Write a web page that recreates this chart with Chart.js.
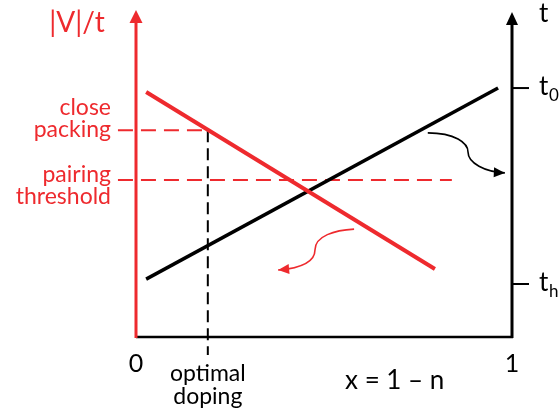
<!DOCTYPE html>
<html>
<head>
<meta charset="utf-8">
<script src="https://cdn.jsdelivr.net/npm/chart.js@4/dist/chart.umd.min.js"></script>
<style>
  html, body { margin: 0; padding: 0; background: #fff; }
  #wrap { width: 559px; height: 415px; }
</style>
</head>
<body>
<div id="wrap"><canvas id="phase" width="559" height="415"></canvas></div>
<script>
const RED = "#ee2a2e";
const BLACK = "#000000";
const FONT = "Lato, 'Open Sans', sans-serif";

// doping axis x = 1 - n, both vertical axes on a 0..1 scale
const xTicks = [0, 1];
const xTickLabels = ["0", "1"];
const tTicks = [0.766, 0.163];
const tTickLabels = [["t", "0"], ["t", "h"]];

// |V|/t falls with doping, t rises
const vOverT = [{ x: 0.027, y: 0.754 }, { x: 0.795, y: 0.209 }];
const hopping = [{ x: 0.027, y: 0.178 }, { x: 0.963, y: 0.766 }];

const closePacking = 0.636;
const pairingThreshold = 0.483;
const optimalDoping = 0.191;

const vLabels = [["close", "packing"], ["pairing", "threshold"]];
const vLabelOffsets = [[-23, -1], [-5, 17]];

function arrowHead(ctx, x, y, angle, len, half, color) {
  ctx.save();
  ctx.translate(x, y);
  ctx.rotate(angle);
  ctx.fillStyle = color;
  ctx.beginPath();
  ctx.moveTo(0, 0);
  ctx.lineTo(-len, -half);
  ctx.lineTo(-len, half);
  ctx.closePath();
  ctx.fill();
  ctx.restore();
}

const decorations = {
  id: "decorations",
  afterDatasetsDraw(chart) {
    const { ctx, chartArea: area } = chart;
    const xs = chart.scales.x;
    const ys = chart.scales.y;
    const px = (v) => xs.getPixelForValue(v);
    const py = (v) => ys.getPixelForValue(v);

    ctx.save();
    ctx.lineCap = "butt";

    // bottom axis
    ctx.strokeStyle = BLACK;
    ctx.lineWidth = 2.5;
    ctx.beginPath();
    ctx.moveTo(area.left, area.bottom);
    ctx.lineTo(area.right + 1, area.bottom);
    ctx.stroke();

    // right t axis
    ctx.lineWidth = 3;
    ctx.beginPath();
    ctx.moveTo(area.right, area.bottom + 1);
    ctx.lineTo(area.right, area.top + 10);
    ctx.stroke();
    arrowHead(ctx, area.right, area.top, -Math.PI / 2, 13, 6, BLACK);

    // left |V|/t axis
    ctx.strokeStyle = RED;
    ctx.lineWidth = 3;
    ctx.beginPath();
    ctx.moveTo(area.left, area.bottom + 1);
    ctx.lineTo(area.left, area.top + 8);
    ctx.stroke();
    arrowHead(ctx, area.left, area.top - 2, -Math.PI / 2, 13, 6.5, RED);

    // t ticks
    ctx.strokeStyle = BLACK;
    ctx.lineWidth = 2;
    tTicks.forEach((v, i) => {
      const y = py(v);
      ctx.beginPath();
      ctx.moveTo(area.right, y);
      ctx.lineTo(area.right + 17, y);
      ctx.stroke();
      ctx.fillStyle = BLACK;
      ctx.font = "26px " + FONT;
      ctx.textAlign = "left";
      ctx.textBaseline = "middle";
      ctx.fillText(tTickLabels[i][0], area.right + 27, y - 1);
      ctx.font = "17px " + FONT;
      ctx.fillText(tTickLabels[i][1], area.right + 37, y + 7);
    });

    // axis titles
    ctx.textBaseline = "middle";
    ctx.font = "26px " + FONT;
    ctx.fillStyle = BLACK;
    ctx.textAlign = "left";
    ctx.fillText("t", area.right + 27, area.top + 2);
    ctx.fillStyle = RED;
    ctx.textAlign = "center";
    ctx.font = "28px " + FONT;
    ctx.fillText("|V|/t", 77, area.top + 11);

    // x tick labels
    ctx.fillStyle = BLACK;
    ctx.font = "25px " + FONT;
    xTicks.forEach((v, i) => ctx.fillText(xTickLabels[i], px(v), area.bottom + 27));
    ctx.font = "26px " + FONT;
    ctx.fillText("x = 1 \u2013 n", px(0.688), area.bottom + 44);
    ctx.font = "23px " + FONT;
    ctx.fillText("optimal", px(optimalDoping), area.bottom + 37);
    ctx.fillText("doping", px(optimalDoping), area.bottom + 60);

    // |V|/t level labels
    ctx.fillStyle = RED;
    ctx.textAlign = "right";
    ctx.font = "23px " + FONT;
    [closePacking, pairingThreshold].forEach((v, i) => {
      const y = py(v);
      ctx.fillText(vLabels[i][0], 111, y + vLabelOffsets[i][0]);
      ctx.fillText(vLabels[i][1], 111, y + vLabelOffsets[i][1]);
    });
    ctx.restore();

    // curved arrows showing which axis each line belongs to
    const curve = (pts, color, width) => {
      ctx.save();
      ctx.strokeStyle = color;
      ctx.lineWidth = width;
      ctx.beginPath();
      ctx.moveTo(px(pts[0][0]), py(pts[0][1]));
      for (let k = 1; k < pts.length; k += 3) {
        ctx.bezierCurveTo(
          px(pts[k][0]), py(pts[k][1]),
          px(pts[k + 1][0]), py(pts[k + 1][1]),
          px(pts[k + 2][0]), py(pts[k + 2][1])
        );
      }
      ctx.stroke();
      const a = pts[pts.length - 2], b = pts[pts.length - 1];
      const ang = Math.atan2(py(b[1]) - py(a[1]), px(b[0]) - px(a[0]));
      arrowHead(ctx, px(b[0]), py(b[1]), ang, 11, 5, color);
      ctx.restore();
    };
    curve([
      [0.776, 0.628], [0.848, 0.628], [0.883, 0.597], [0.883, 0.569],
      [0.883, 0.535], [0.928, 0.508], [0.981, 0.505]
    ], BLACK, 1.6);
    curve([
      [0.580, 0.332], [0.529, 0.329], [0.476, 0.311], [0.476, 0.268],
      [0.476, 0.231], [0.436, 0.212], [0.378, 0.206]
    ], RED, 1.6);
  }
};

new Chart(document.getElementById("phase"), {
  type: "scatter",
  data: {
    datasets: [
      { data: vOverT, showLine: true, borderColor: RED, borderWidth: 4, pointRadius: 0 },
      { data: hopping, showLine: true, borderColor: BLACK, borderWidth: 3.5, pointRadius: 0 },
      {
        data: [{ x: -0.048, y: closePacking }, { x: optimalDoping, y: closePacking }],
        showLine: true, borderColor: RED, borderWidth: 2, borderDash: [15, 8], pointRadius: 0, clip: false
      },
      {
        data: [{ x: -0.048, y: pairingThreshold }, { x: 0.84, y: pairingThreshold }],
        showLine: true, borderColor: RED, borderWidth: 2, borderDash: [15, 8], pointRadius: 0, clip: false
      },
      {
        data: [{ x: optimalDoping, y: closePacking }, { x: optimalDoping, y: -0.055 }],
        showLine: true, borderColor: BLACK, borderWidth: 2, borderDash: [12, 6], pointRadius: 0, clip: false
      }
    ]
  },
  options: {
    responsive: false,
    animation: false,
    devicePixelRatio: 1,
    layout: { padding: { left: 136, right: 47, top: 12, bottom: 78 } },
    plugins: { legend: { display: false }, tooltip: { enabled: false } },
    scales: {
      x: { type: "linear", min: 0, max: 1, display: false },
      y: { type: "linear", min: 0, max: 1, display: false }
    }
  },
  plugins: [decorations]
});
</script>
</body>
</html>
